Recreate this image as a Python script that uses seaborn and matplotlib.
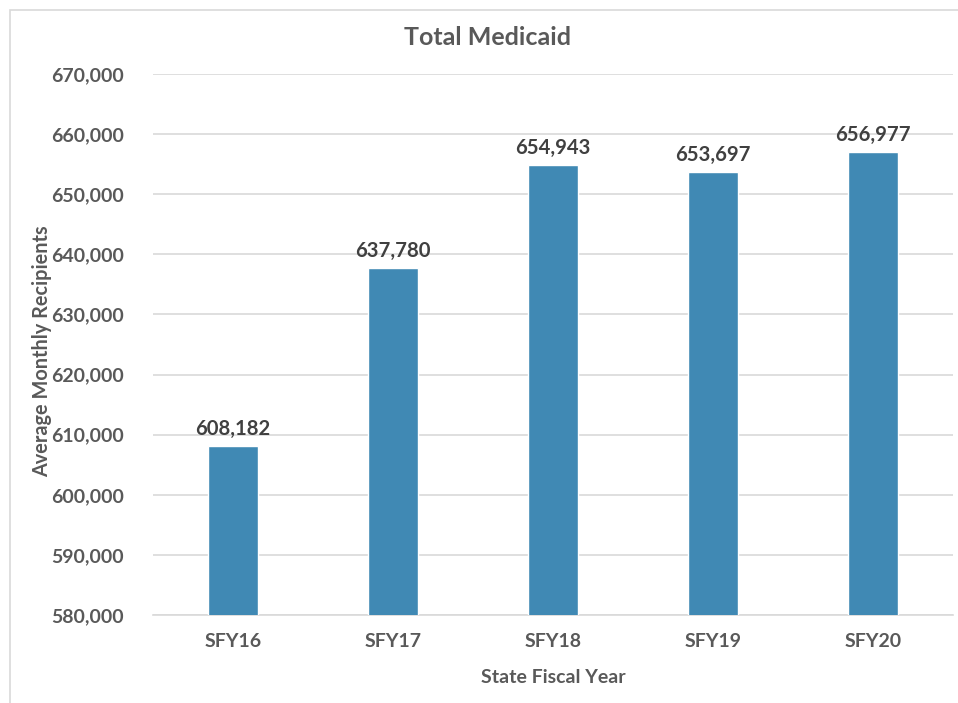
import matplotlib
matplotlib.use("Agg")
import matplotlib.pyplot as plt
import seaborn as sns
import pandas as pd
from matplotlib.ticker import FuncFormatter, MultipleLocator
from matplotlib.patches import Rectangle

years = ["SFY16", "SFY17", "SFY18", "SFY19", "SFY20"]
recipients = [608182, 637780, 654943, 653697, 656977]

df = pd.DataFrame({"year": years, "recipients": recipients})

sns.set_theme(style="white")
plt.rcParams["font.family"] = ["Lato", "DejaVu Sans"]

txt = "#595959"
bar_color = "#4089B4"

fig = plt.figure(figsize=(9.58, 7.03), dpi=100)
ax = fig.add_axes([0.1597, 0.1252, 0.8351, 0.7695])

sns.barplot(data=df, x="year", y="recipients", color=bar_color, width=0.31,
            saturation=1, ax=ax, zorder=3)

ax.set_ylim(580000, 670000)
ax.yaxis.set_major_locator(MultipleLocator(10000))
ax.yaxis.set_major_formatter(FuncFormatter(lambda v, p: f"{int(v):,}"))
ax.grid(axis="y", color="#D9D9D9", linewidth=1.2, zorder=0)
ax.set_axisbelow(True)
for s in ["top", "right", "left"]:
    ax.spines[s].set_visible(False)
ax.spines["bottom"].set_color("#D9D9D9")
ax.spines["bottom"].set_linewidth(1.2)

ax.tick_params(axis="both", length=0, labelsize=14, labelcolor=txt)
ax.tick_params(axis="y", pad=21)
ax.tick_params(axis="x", pad=13)
for lab in ax.get_xticklabels() + ax.get_yticklabels():
    lab.set_fontweight("bold")

ax.set_xlabel("State Fiscal Year", fontsize=14, color=txt, fontweight="bold",
              labelpad=14)
ax.set_ylabel("Average Monthly Recipients", fontsize=14.3, color=txt,
              fontweight="bold")
ax.yaxis.set_label_coords(42 / 958, 0.5, transform=fig.transFigure)
ax.yaxis.label.set_va("center")

for c in ax.containers:
    ax.bar_label(c, labels=[f"{v:,}" for v in recipients], padding=5,
                 fontsize=14.6, fontweight="bold", color="#404040")

fig.text(0.509, 0.947, "Total Medicaid", ha="center", va="center",
         fontsize=18, fontweight="bold", color=txt)

fig.patches.append(Rectangle((10 / 958, -0.01), 1.0, 1 - 10 / 703 + 0.01,
                             transform=fig.transFigure, fill=False,
                             edgecolor="#D9D9D9", linewidth=1.2))

fig.savefig("out.png", dpi=100, facecolor="white")
